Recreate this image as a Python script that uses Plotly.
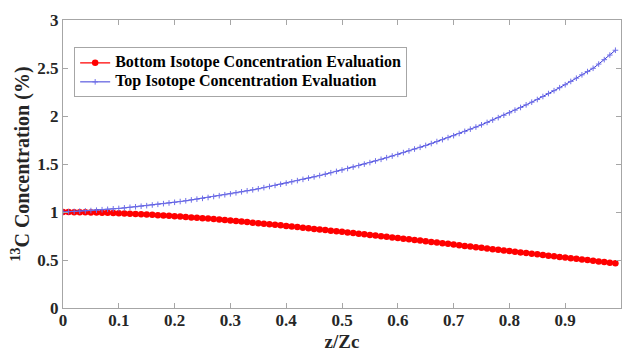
import plotly.graph_objects as go

z = [0.00, 0.01, 0.02, 0.03, 0.04, 0.05, 0.06, 0.07, 0.08, 0.09,
     0.10, 0.11, 0.12, 0.13, 0.14, 0.15, 0.16, 0.17, 0.18, 0.19,
     0.20, 0.21, 0.22, 0.23, 0.24, 0.25, 0.26, 0.27, 0.28, 0.29,
     0.30, 0.31, 0.32, 0.33, 0.34, 0.35, 0.36, 0.37, 0.38, 0.39,
     0.40, 0.41, 0.42, 0.43, 0.44, 0.45, 0.46, 0.47, 0.48, 0.49,
     0.50, 0.51, 0.52, 0.53, 0.54, 0.55, 0.56, 0.57, 0.58, 0.59,
     0.60, 0.61, 0.62, 0.63, 0.64, 0.65, 0.66, 0.67, 0.68, 0.69,
     0.70, 0.71, 0.72, 0.73, 0.74, 0.75, 0.76, 0.77, 0.78, 0.79,
     0.80, 0.81, 0.82, 0.83, 0.84, 0.85, 0.86, 0.87, 0.88, 0.89,
     0.90, 0.91, 0.92, 0.93, 0.94, 0.95, 0.96, 0.97, 0.98, 0.99]

bottom = [1.000, 0.999, 0.998, 0.998, 0.997, 0.996, 0.994, 0.992, 0.991, 0.989,
          0.987, 0.984, 0.982, 0.979, 0.977, 0.974, 0.971, 0.967, 0.964, 0.960,
          0.957, 0.953, 0.949, 0.944, 0.940, 0.936, 0.931, 0.926, 0.921, 0.916,
          0.911, 0.906, 0.900, 0.895, 0.889, 0.884, 0.878, 0.872, 0.867, 0.861,
          0.855, 0.849, 0.843, 0.836, 0.830, 0.824, 0.818, 0.812, 0.805, 0.799,
          0.793, 0.787, 0.780, 0.774, 0.767, 0.761, 0.754, 0.748, 0.741, 0.735,
          0.728, 0.721, 0.715, 0.708, 0.702, 0.695, 0.688, 0.681, 0.675, 0.668,
          0.661, 0.654, 0.647, 0.641, 0.634, 0.627, 0.620, 0.613, 0.607, 0.600,
          0.593, 0.586, 0.579, 0.573, 0.566, 0.559, 0.552, 0.545, 0.539, 0.532,
          0.525, 0.518, 0.512, 0.505, 0.499, 0.492, 0.485, 0.479, 0.472, 0.466]

top = [1.000, 1.003, 1.006, 1.009, 1.012, 1.015, 1.019, 1.024, 1.028, 1.033,
       1.037, 1.043, 1.049, 1.054, 1.060, 1.066, 1.073, 1.080, 1.087, 1.094,
       1.101, 1.109, 1.117, 1.126, 1.134, 1.142, 1.151, 1.161, 1.170, 1.180,
       1.189, 1.200, 1.210, 1.221, 1.231, 1.242, 1.254, 1.266, 1.277, 1.289,
       1.301, 1.314, 1.327, 1.340, 1.353, 1.366, 1.380, 1.394, 1.409, 1.423,
       1.437, 1.453, 1.468, 1.484, 1.499, 1.515, 1.532, 1.549, 1.566, 1.583,
       1.600, 1.619, 1.637, 1.656, 1.674, 1.693, 1.713, 1.734, 1.754, 1.775,
       1.795, 1.818, 1.840, 1.863, 1.885, 1.908, 1.933, 1.958, 1.983, 2.008,
       2.033, 2.061, 2.089, 2.116, 2.144, 2.172, 2.203, 2.234, 2.264, 2.295,
       2.326, 2.360, 2.394, 2.429, 2.463, 2.497, 2.541, 2.587, 2.635, 2.685]

x_ticks = [0, 0.1, 0.2, 0.3, 0.4, 0.5, 0.6, 0.7, 0.8, 0.9, 1]
x_tick_labels = ["0", "0.1", "0.2", "0.3", "0.4", "0.5", "0.6", "0.7", "0.8", "0.9", "1"]
y_ticks = [0, 0.5, 1, 1.5, 2, 2.5, 3]
y_tick_labels = ["0", "0.5", "1", "1.5", "2", "2.5", "3"]

FONT = "Liberation Serif"
TXT = "#262626"

fig = go.Figure()
fig.add_trace(go.Scatter(
    x=z, y=bottom, mode="lines+markers",
    name='<span style="font-size:16px"><b>Bottom Isotope Concentration Evaluation</b></span>',
    line=dict(color="#ff0000", width=1.2),
    marker=dict(symbol="circle", size=6.5, color="#ff0000", line=dict(width=0)),
))
fig.add_trace(go.Scatter(
    x=z, y=top, mode="lines+markers",
    name='<span style="font-size:16px"><b>Top Isotope Concentration Evaluation</b></span>',
    line=dict(color="#3a3ad8", width=1),
    marker=dict(symbol="cross-thin", size=4, color="#7070e8",
                line=dict(width=1, color="#7070e8")),
))

axis_common = dict(
    showline=True, mirror="ticks", linecolor="#a6a6a6", linewidth=1,
    ticks="inside", ticklen=5, tickcolor="#a6a6a6",
    showgrid=False, zeroline=False, automargin=False,
    tickfont=dict(family=FONT, size=17, color=TXT, weight="bold"),
)

fig.update_layout(
    width=622, height=352,
    margin=dict(l=63, r=1, t=20, b=44, autoexpand=False),
    paper_bgcolor="white", plot_bgcolor="white",
    font=dict(family=FONT, color=TXT),
    xaxis=dict(
        range=[0, 1], tickvals=x_ticks, ticktext=x_tick_labels,
        ticklabelstandoff=-3,
        title=dict(text="<b>z/Zc</b>", font=dict(family=FONT, size=19, color=TXT), standoff=6),
        **axis_common,
    ),
    yaxis=dict(
        range=[0, 3], tickvals=y_ticks, ticktext=y_tick_labels,
        title=dict(text="<b><sup>13</sup>C Concentration (%)</b>",
                   font=dict(family=FONT, size=20, color=TXT), standoff=2),
        **axis_common,
    ),
    legend=dict(
        x=0.02, y=0.905, xanchor="left", yanchor="top",
        bgcolor="white", bordercolor="#a6a6a6", borderwidth=1,
        font=dict(family=FONT, size=11, color="#000000"),
        itemwidth=30, tracegroupgap=0,
    ),
    showlegend=True,
)

fig.write_html(
    "out.html",
    config={"displayModeBar": False},
    post_script="document.body.style.margin='0';document.body.style.overflow='hidden';",
)
